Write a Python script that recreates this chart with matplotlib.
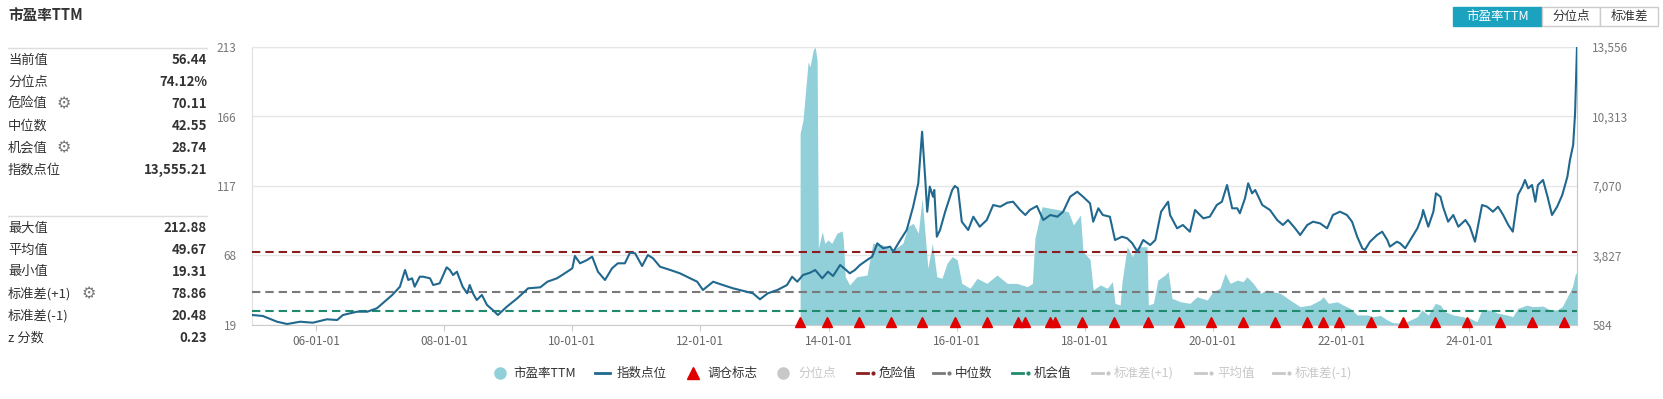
import numpy as np
import pandas as pd
import matplotlib
matplotlib.use('Agg')
import matplotlib.pyplot as plt
from matplotlib.lines import Line2D
from matplotlib.patches import Rectangle

plt.rcParams['font.family'] = ['Noto Sans CJK SC', 'DejaVu Sans']

# ---------------- data ----------------
idx_years = [2005.00, 2005.17, 2005.39, 2005.55, 2005.75, 2005.95, 2006.17, 2006.33, 2006.42, 2006.64,
             2006.80, 2006.95, 2007.04, 2007.19, 2007.31, 2007.39, 2007.44, 2007.50, 2007.54, 2007.62,
             2007.67, 2007.78, 2007.83, 2007.93, 2008.04, 2008.09, 2008.14, 2008.20, 2008.29, 2008.36,
             2008.40, 2008.45, 2008.51, 2008.59, 2008.67, 2008.76, 2008.84, 2008.98, 2009.14, 2009.31,
             2009.50, 2009.61, 2009.76, 2009.92, 2010.00, 2010.04, 2010.12, 2010.23, 2010.31, 2010.40,
             2010.51, 2010.62, 2010.71, 2010.82, 2010.90, 2010.98, 2011.09, 2011.18, 2011.26, 2011.37,
             2011.53, 2011.68, 2011.84, 2011.95, 2012.04, 2012.20, 2012.35, 2012.51, 2012.66, 2012.82,
             2012.93, 2013.05, 2013.20, 2013.35, 2013.43, 2013.51, 2013.60, 2013.71, 2013.79, 2013.90,
             2013.99, 2014.07, 2014.18, 2014.26, 2014.33, 2014.41, 2014.49, 2014.60, 2014.68, 2014.76,
             2014.85, 2014.96, 2015.01, 2015.12, 2015.22, 2015.32, 2015.40, 2015.46, 2015.51, 2015.54,
             2015.58, 2015.63, 2015.65, 2015.69, 2015.74, 2015.82, 2015.93, 2015.97, 2016.02, 2016.08,
             2016.18, 2016.26, 2016.36, 2016.47, 2016.57, 2016.68, 2016.79, 2016.88, 2016.99, 2017.07,
             2017.14, 2017.25, 2017.35, 2017.46, 2017.57, 2017.66, 2017.77, 2017.88, 2017.97, 2018.08,
             2018.13, 2018.21, 2018.28, 2018.39, 2018.47, 2018.58, 2018.66, 2018.74, 2018.82, 2018.91,
             2019.02, 2019.10, 2019.19, 2019.30, 2019.33, 2019.44, 2019.53, 2019.64, 2019.72, 2019.85,
             2019.95, 2020.06, 2020.14, 2020.22, 2020.30, 2020.38, 2020.42, 2020.50, 2020.55, 2020.61,
             2020.66, 2020.77, 2020.89, 2021.00, 2021.09, 2021.17, 2021.28, 2021.36, 2021.47, 2021.56,
             2021.67, 2021.78, 2021.87, 2021.98, 2022.09, 2022.17, 2022.25, 2022.33, 2022.37, 2022.45,
             2022.56, 2022.64, 2022.72, 2022.76, 2022.87, 2022.92, 2023.00, 2023.11, 2023.19, 2023.26,
             2023.28, 2023.36, 2023.44, 2023.48, 2023.55, 2023.59, 2023.67, 2023.75, 2023.83, 2023.94,
             2024.01, 2024.09, 2024.20, 2024.28, 2024.37, 2024.45, 2024.53, 2024.61, 2024.68, 2024.76,
             2024.83, 2024.87, 2024.92, 2024.98, 2025.03, 2025.07, 2025.15, 2025.22, 2025.29, 2025.37,
             2025.45, 2025.53, 2025.57, 2025.62, 2025.65, 2025.68]
idx_values = [1051, 1004, 738, 630, 738, 691, 850, 817, 1051, 1205,
              1205, 1363, 1596, 1984, 2371, 3150, 2684, 2763, 2371, 2838,
              2838, 2763, 2450, 2530, 3276, 3150, 2917, 3071, 2371, 2063,
              2450, 2063, 1750, 1984, 1517, 1284, 1051, 1440, 1829, 2296,
              2343, 2604, 2763, 3071, 3230, 3804, 3463, 3617, 3771, 3071,
              2684, 3230, 3463, 3463, 3957, 3929, 3337, 3850, 3696, 3304,
              3150, 2996, 2763, 2604, 2217, 2604, 2450, 2296, 2184, 2063,
              1783, 2063, 2217, 2450, 2838, 2604, 2917, 3024, 3150, 2763,
              3071, 2870, 3384, 3183, 2996, 3150, 3384, 3617, 3771, 4396,
              4163, 4240, 4004, 4550, 5017, 6104, 7196, 9603, 7350, 5871,
              7040, 6571, 6883, 4704, 5017, 5871, 6883, 7070, 6962, 5404,
              5017, 5637, 5171, 5483, 6183, 6104, 6290, 6337, 5950, 5717,
              5950, 6137, 5483, 5717, 5637, 5871, 6571, 6804, 6571, 6262,
              5404, 6029, 5717, 5637, 4550, 4704, 4629, 4396, 4004, 4550,
              4317, 4550, 5871, 6337, 5717, 5095, 5250, 4938, 5950, 5561,
              5637, 6183, 6337, 7117, 6029, 6029, 5796, 6492, 7196, 6729,
              6883, 6183, 5950, 5483, 5250, 5483, 5095, 4784, 5250, 5404,
              5327, 5095, 5717, 5871, 5717, 5404, 4704, 4163, 4084, 4471,
              4784, 4938, 4550, 4240, 4471, 4396, 4163, 4704, 5095, 5637,
              5950, 5171, 5871, 6729, 6571, 6104, 5404, 5717, 5171, 5483,
              5171, 4471, 6183, 6104, 5871, 6104, 5717, 5250, 4938, 6650,
              7040, 7350, 6962, 7117, 6337, 7117, 7350, 6571, 5717, 6104,
              6650, 7506, 8283, 8983, 10462, 13555]

pe_years = [2013.555, 2013.60, 2013.68, 2013.71, 2013.76, 2013.79, 2013.82, 2013.84, 2013.90, 2013.94,
            2013.99, 2014.05, 2014.13, 2014.21, 2014.23, 2014.26, 2014.33, 2014.44, 2014.60, 2014.69,
            2014.85, 2015.01, 2015.16, 2015.24, 2015.32, 2015.40, 2015.46, 2015.51, 2015.55, 2015.62,
            2015.69, 2015.77, 2015.85, 2015.93, 2016.01, 2016.08, 2016.21, 2016.32, 2016.47, 2016.63,
            2016.79, 2016.94, 2017.10, 2017.18, 2017.22, 2017.33, 2017.46, 2017.61, 2017.74, 2017.82,
            2017.93, 2017.97, 2018.08, 2018.13, 2018.24, 2018.35, 2018.43, 2018.47, 2018.55, 2018.58,
            2018.66, 2018.74, 2018.82, 2018.97, 2018.99, 2019.07, 2019.14, 2019.25, 2019.30, 2019.36,
            2019.49, 2019.64, 2019.75, 2019.91, 2020.00, 2020.11, 2020.19, 2020.27, 2020.38, 2020.47,
            2020.53, 2020.63, 2020.74, 2020.84, 2020.94, 2021.05, 2021.20, 2021.36, 2021.52, 2021.67,
            2021.72, 2021.80, 2021.94, 2022.03, 2022.14, 2022.25, 2022.41, 2022.50, 2022.61, 2022.72,
            2022.81, 2022.97, 2023.08, 2023.19, 2023.26, 2023.36, 2023.47, 2023.55, 2023.62, 2023.75,
            2023.89, 2024.01, 2024.12, 2024.20, 2024.33, 2024.45, 2024.59, 2024.68, 2024.76, 2024.90,
            2024.99, 2025.15, 2025.26, 2025.37, 2025.45, 2025.53, 2025.61, 2025.65, 2025.68]
pe_values = [152.8, 162.0, 202.6, 199.2, 210.8, 212.88, 203.8, 72.7, 84.3, 76.2,
             78.5, 76.2, 83.2, 84.8, 78.5, 52.9, 47.2, 52.9, 54.1, 76.2,
             75.0, 71.5, 76.2, 87.8, 90.1, 83.2, 107.5, 80.8, 58.8, 76.2,
             52.9, 51.8, 62.3, 66.9, 64.6, 48.3, 44.9, 51.8, 48.3, 54.1,
             48.3, 48.3, 46.0, 48.3, 79.7, 101.7, 100.6, 99.4, 98.2, 89.0,
             95.9, 70.3, 65.0, 43.7, 47.2, 44.9, 49.5, 34.4, 33.2, 49.5,
             73.8, 66.9, 73.8, 73.8, 33.2, 34.4, 50.6, 54.1, 56.4, 37.9,
             35.5, 34.4, 39.0, 36.7, 42.5, 44.9, 55.3, 48.3, 50.6, 49.5,
             52.9, 48.3, 41.4, 43.7, 42.5, 41.4, 36.7, 32.1, 33.2, 36.7,
             39.0, 34.4, 35.5, 33.2, 30.9, 26.3, 26.3, 25.1, 26.0, 22.8,
             20.9, 20.5, 22.8, 25.1, 29.8, 26.3, 34.4, 33.2, 28.6, 26.3,
             25.1, 24.0, 21.6, 29.8, 29.8, 27.5, 26.3, 25.1, 30.9, 33.2,
             32.1, 32.5, 29.8, 29.8, 32.1, 39.0, 46.0, 54.1, 56.44]

rebalance_years = [2013.555, 2013.976, 2014.475, 2014.975, 2015.46, 2015.97, 2016.47, 2016.96,
                   2017.07, 2017.46, 2017.54, 2017.96, 2018.46, 2018.99, 2019.47, 2019.97,
                   2020.47, 2020.97, 2021.47, 2021.72, 2021.97, 2022.47, 2022.97, 2023.47,
                   2023.97, 2024.48, 2024.98, 2025.48]

pe_danger = 70.11
pe_median = 42.55
pe_chance = 28.74
pe_min = 19.31
pe_max = 212.88
idx_min = 584
idx_max = 13556

left_tick_labels = ['19', '68', '117', '166', '213']
right_tick_labels = ['584', '3,827', '7,070', '10,313', '13,556']
x_tick_years = [2006, 2008, 2010, 2012, 2014, 2016, 2018, 2020, 2022, 2024]

stats_top = [('当前值', '56.44', False), ('分位点', '74.12%', False), ('危险值', '70.11', True),
             ('中位数', '42.55', False), ('机会值', '28.74', True), ('指数点位', '13,555.21', False)]
stats_bottom = [('最大值', '212.88', False), ('平均值', '49.67', False), ('最小值', '19.31', False),
                ('标准差(+1)', '78.86', True), ('标准差(-1)', '20.48', False), ('z 分数', '0.23', False)]

# ---------------- helpers ----------------
def to_dt(ys):
    out = []
    for y in ys:
        yi = int(np.floor(y))
        out.append(pd.Timestamp(yi, 1, 1) + pd.Timedelta(days=(y - yi) * 365.25))
    return out

W, H = 1663, 399
def fx(x):
    return x / W
def fy(y):
    return 1 - y / H

C_AREA = '#91cfd9'
C_LINE = '#21688f'
C_RED = '#e00000'
C_DANGER = '#8b1f1f'
C_MEDIAN = '#7a7a7a'
C_CHANCE = '#1f8a6c'
C_INACT = '#c8c8c8'
C_TXT = '#333333'

fig = plt.figure(figsize=(W / 100, H / 100), dpi=100)
ax = fig.add_axes([fx(252), 1 - 325 / H, (1577 - 252) / W, 278 / H])
ax2 = ax.twinx()

idx_dt = to_dt(idx_years)
pe_dt = to_dt(pe_years)
reb_dt = to_dt(rebalance_years)

# left axis: PE
ax.set_ylim(pe_min, pe_max)
ax.set_xlim(idx_dt[0], idx_dt[-1])
ax.set_yticks(np.linspace(pe_min, pe_max, 5))
ax.set_yticklabels(left_tick_labels)
ax.yaxis.grid(True, color='#e6e6e6', lw=1)
ax.set_axisbelow(True)
ax.fill_between(pe_dt, pe_values, pe_min, color=C_AREA, lw=0, zorder=2)
for val, col in [(pe_danger, C_DANGER), (pe_median, C_MEDIAN), (pe_chance, C_CHANCE)]:
    ax.axhline(val, color=col, lw=1.5, dashes=(4, 2.4), zorder=3)

ax.set_xticks(to_dt(x_tick_years))
ax.set_xticklabels([f'{y % 100:02d}-01-01' for y in x_tick_years])
ax.tick_params(axis='x', length=4, color='#cccccc', labelsize=8.5, labelcolor='#666666', pad=3)
ax.tick_params(axis='y', length=0, labelsize=8.5, labelcolor='#777777', pad=11)
ax.spines['top'].set_color('#e6e6e6')
ax.spines['left'].set_color('#e0e0e0')
ax.spines['bottom'].set_color('#cccccc')
ax.spines['right'].set_visible(False)

# right axis: index
ax2.set_ylim(idx_min, idx_max)
ax2.set_yticks(np.linspace(idx_min, idx_max, 5))
ax2.set_yticklabels(right_tick_labels)
ax2.tick_params(axis='y', length=0, labelsize=8.5, labelcolor='#777777', pad=11)
for s in ['top', 'left', 'bottom']:
    ax2.spines[s].set_visible(False)
ax2.spines['right'].set_color('#b5cbd8')
ax2.plot(idx_dt, idx_values, color=C_LINE, lw=1.5, zorder=4)
ax2.plot(reb_dt, [0.012] * len(reb_dt), transform=ax2.get_xaxis_transform(), ls='none',
         marker='^', ms=7, color=C_RED, clip_on=False, zorder=5)

# ---------------- left panel ----------------
fig.text(fx(8), fy(15), '市盈率TTM', fontsize=10.5, fontweight='bold', color=C_TXT, va='center', ha='left')
fig.add_artist(Line2D([fx(8), fx(207)], [fy(48), fy(48)], color='#dddddd', lw=1))
fig.add_artist(Line2D([fx(8), fx(207)], [fy(216), fy(216)], color='#dddddd', lw=1))

def panel(rows, y0):
    for i, (lab, val, gear) in enumerate(rows):
        yy = y0 + i * 22
        fig.text(fx(8), fy(yy), lab, fontsize=9.5, color=C_TXT, va='center', ha='left')
        fig.text(fx(207), fy(yy), val, fontsize=9.5, fontweight='bold', color=C_TXT, va='center', ha='right')
        if gear:
            gx = 64 if len(lab) == 3 else 89
            fig.text(fx(gx), fy(yy), '⚙', family='DejaVu Sans', fontsize=11.5, color='#777777',
                     va='center', ha='center')

panel(stats_top, 60)
panel(stats_bottom, 228)

# ---------------- buttons ----------------
buttons = [('市盈率TTM', 1453, 1542, True), ('分位点', 1542, 1600, False), ('标准差', 1600, 1658, False)]
for lab, x0, x1, active in buttons:
    fig.add_artist(Rectangle((fx(x0), fy(26)), (x1 - x0) / W, 19 / H, transform=fig.transFigure,
                             facecolor='#1aa2bf' if active else 'white',
                             edgecolor='#1aa2bf' if active else '#cccccc', lw=1))
    fig.text(fx((x0 + x1) / 2), fy(16.5), lab, fontsize=9, color='white' if active else C_TXT,
             va='center', ha='center')

# ---------------- legend ----------------
LY = 373
def ltext(x, s, col):
    fig.text(fx(x), fy(LY), s, fontsize=9, color=col, va='center', ha='left')

fig.add_artist(Line2D([fx(500)], [fy(LY)], marker='o', ms=8, color=C_AREA, ls='none'))
ltext(513, '市盈率TTM', C_TXT)
fig.add_artist(Line2D([fx(595), fx(610)], [fy(LY), fy(LY)], color=C_LINE, lw=2))
ltext(617, '指数点位', C_TXT)
fig.add_artist(Line2D([fx(693)], [fy(LY)], marker='^', ms=8, color=C_RED, ls='none'))
ltext(707, '调仓标志', C_TXT)
fig.add_artist(Line2D([fx(783)], [fy(LY)], marker='o', ms=8, color=C_INACT, ls='none'))
ltext(798, '分位点', C_INACT)

dd_items = [(857, '危险值', C_DANGER, C_TXT), (933, '中位数', C_MEDIAN, C_TXT),
            (1012, '机会值', C_CHANCE, C_TXT), (1092, '标准差(+1)', C_INACT, C_INACT),
            (1195, '平均值', C_INACT, C_INACT), (1273, '标准差(-1)', C_INACT, C_INACT)]
for x0, lab, col, tcol in dd_items:
    fig.add_artist(Line2D([fx(x0), fx(x0 + 11)], [fy(LY), fy(LY)], color=col, lw=2))
    fig.add_artist(Line2D([fx(x0 + 16)], [fy(LY)], marker='o', ms=2, color=col, ls='none'))
    ltext(x0 + 22, lab, tcol)

fig.savefig('out.png', dpi=100, facecolor='white')
